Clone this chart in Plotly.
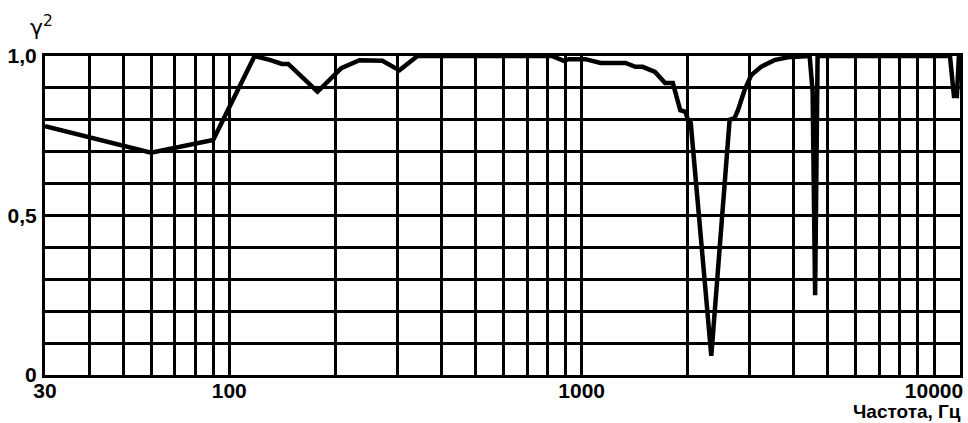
import plotly.graph_objects as go
import math

# Frequency (Hz) and coherence γ²
freq = [30, 60, 90, 118, 131, 141, 147, 178, 208, 234, 272, 304, 342,
        823, 890, 920, 1025, 1132, 1332, 1421, 1490, 1615, 1725, 1815,
        1905, 1970, 2003, 2040, 2333, 2630, 2717, 2777, 2900, 3029, 3230,
        3523, 3845, 4378, 4436, 4523, 4598, 4673, 11097, 11390, 11614,
        11767, 11850]
gamma2 = [0.78, 0.697, 0.737, 1.0, 0.987, 0.975, 0.975, 0.888, 0.962, 0.987,
          0.985, 0.955, 1.0,
          1.0, 0.985, 0.99, 0.99, 0.978, 0.978, 0.966, 0.966, 0.95, 0.915,
          0.915, 0.83, 0.825, 0.80, 0.79, 0.06, 0.80, 0.805, 0.83, 0.893,
          0.94, 0.966, 0.987, 0.996, 1.0, 1.0, 0.89, 0.25, 1.0, 1.0, 0.875,
          0.875, 1.0, 1.0]

x_grid = [30, 40, 50, 60, 70, 80, 90, 100, 200, 300, 400, 500, 600, 700,
          800, 900, 1000, 2000, 3000, 4000, 5000, 6000, 7000, 8000, 9000, 10000]
x_labels = ["30" if v == 30 else ("100" if v == 100 else ("1000" if v == 1000 else ("10000" if v == 10000 else ""))) for v in x_grid]
y_grid = [0, 0.1, 0.2, 0.3, 0.4, 0.5, 0.6, 0.7, 0.8, 0.9, 1.0]
y_labels = ["0", "", "", "", "", "0,5", "", "", "", "", "1,0"]

x_min, x_max = 30, 11850

fig = go.Figure()
fig.add_trace(go.Scatter(x=freq, y=gamma2, mode="lines",
                         line=dict(color="black", width=4.5),
                         showlegend=False, hoverinfo="skip"))

fig.update_layout(
    width=968, height=423,
    margin=dict(l=45, r=5, t=56, b=48),
    paper_bgcolor="white", plot_bgcolor="white",
    font=dict(family="Liberation Sans", size=21, color="black", weight="bold"),
    xaxis=dict(type="log", range=[math.log10(x_min), math.log10(x_max)],
               tickmode="array", tickvals=x_grid, ticktext=x_labels,
               showgrid=True, gridcolor="black", gridwidth=2.5,
               showline=True, linecolor="black", linewidth=3, mirror=True,
               ticks="", zeroline=False, ticklabelstandoff=-5),
    yaxis=dict(range=[0, 1], tickmode="array", tickvals=y_grid, ticktext=y_labels,
               showgrid=True, gridcolor="black", gridwidth=2.5,
               showline=True, linecolor="black", linewidth=3, mirror=True,
               ticks="", zeroline=False, ticklabelstandoff=1),
    annotations=[
        dict(text="γ<sup>2</sup>", xref="paper", yref="paper",
             x=-0.004, y=1.0, yshift=14, xanchor="center", yanchor="bottom",
             showarrow=False,
             font=dict(family="DejaVu Sans", size=22, weight="normal")),
        dict(text="Частота, Гц", xref="paper", yref="paper",
             x=1.0, y=0, xshift=3, yshift=-36, xanchor="right", yanchor="middle",
             showarrow=False, font=dict(size=19)),
    ],
)

fig.write_html("out.html", config={"displayModeBar": False},
               post_script="document.body.style.margin='0';")
